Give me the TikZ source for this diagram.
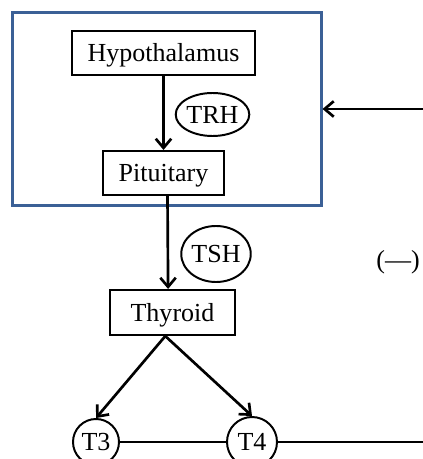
\documentclass[tikz,border=0pt]{standalone}
\usepackage{fontspec}
\setmainfont{Liberation Serif}
\usetikzlibrary{arrows.meta,shapes.geometric}
\definecolor{axisblue}{RGB}{59,96,150}

\begin{document}
\begin{tikzpicture}[x=0.025cm,y=-0.025cm,
        font=\fontsize{18.5}{22}\selectfont,
        every node/.style={text height=12.5pt,text depth=0pt},
        organ/.style={draw,line width=1.5pt,rectangle,minimum height=1.1cm,inner sep=0pt},
        hormone/.style={draw,line width=1.4pt,ellipse,inner sep=0pt},
        thyro/.style={draw,line width=1.4pt,circle,inner sep=0pt},
        arr/.style={line width=1.9pt,-{Straight Barb[length=6.5pt,width=11pt,line width=1.9pt]}}]

    \useasboundingbox (0,0) rectangle (422,459);

    % control centre
    \node[draw=axisblue,line width=2.1pt,minimum width=7.7cm,minimum height=4.8cm] (axis) at (167,109) {};

    \node[organ,minimum width=4.575cm] (hypo) at (163.5,53) {Hypothalamus};
    \node[organ,minimum width=3.025cm] (pit) at (163.5,173) {Pituitary};
    \node[organ,minimum width=3.125cm,minimum height=1.125cm] (thyroid) at (172.5,312.5) {Thyroid};

    \node[hormone,minimum width=1.825cm,minimum height=1.075cm] (trh) at (212.5,114.5) {TRH};
    \node[hormone,minimum width=1.65cm,minimum height=1.4cm] (tsh) at (216,254) {TSH};

    \node[thyro,minimum size=1.15cm] (t3) at (96,442) {T3};
    \node[thyro,minimum size=1.25cm] (t4) at (252,442) {T4};

    \node[anchor=east,inner sep=0pt] (neg) at (420,260) {(—)};

    \coordinate (fbin) at (424,109);
    \coordinate (fbout) at (424,442);

    \draw[arr] (hypo) -- (pit);
    \draw[arr] ([xshift=0.1cm]pit.south) -- ([xshift=-0.11cm]thyroid.north);
    \draw[arr] ([xshift=-0.18cm]thyroid.south) -- (t3.north);
    \draw[arr] ([xshift=-0.18cm]thyroid.south) -- (t4.north);
    \draw[line width=1.9pt] (t3) -- (t4);
    \draw[line width=1.9pt] (t4) -- (fbout);
    \draw[arr] (fbin) -- (axis.east);
\end{tikzpicture}
\end{document}
